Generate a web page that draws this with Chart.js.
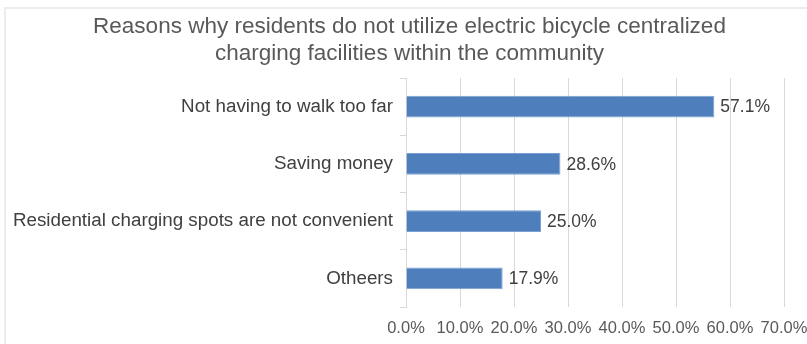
<!DOCTYPE html>
<html>
<head>
<meta charset="utf-8">
<script src="https://cdn.jsdelivr.net/npm/chart.js@4/dist/chart.umd.min.js"></script>
<style>
  html, body { margin: 0; padding: 0; background: #ffffff; }
  #wrap { width: 807px; height: 344px; position: relative; }
</style>
</head>
<body>
<div id="wrap"><canvas id="c" width="807" height="344"></canvas></div>
<script>
const categories = [
  "Not having to walk too far",
  "Saving money",
  "Residential charging spots are not convenient",
  "Otheers"
];
const values = [57.1, 28.6, 25.0, 17.9];
const xTicks = [0, 10, 20, 30, 40, 50, 60, 70];
const titleLines = [
  "Reasons why residents do not utilize electric bicycle centralized",
  "charging facilities within the community"
];

const FONT = "'Liberation Sans', Arial, Helvetica, sans-serif";

const framePlugin = {
  id: 'frame',
  beforeDraw(chart) {
    const ctx = chart.ctx;
    ctx.save();
    ctx.fillStyle = '#ffffff';
    ctx.fillRect(0, 0, chart.width, chart.height);
    ctx.strokeStyle = '#ececec';
    ctx.lineWidth = 2;
    ctx.beginPath();
    ctx.moveTo(5, chart.height + 2);
    ctx.lineTo(5, 8);
    ctx.lineTo(chart.width + 2, 8);
    ctx.stroke();
    ctx.restore();
  }
};

const labelPlugin = {
  id: 'barLabels',
  afterDatasetsDraw(chart) {
    const ctx = chart.ctx;
    const meta = chart.getDatasetMeta(0);
    ctx.save();
    ctx.font = "17.5px " + FONT;
    ctx.fillStyle = '#404040';
    ctx.textAlign = 'left';
    ctx.textBaseline = 'middle';
    meta.data.forEach((bar, i) => {
      ctx.fillText(values[i].toFixed(1) + '%', bar.x + 6, bar.y + 1);
    });
    ctx.restore();
  }
};

new Chart(document.getElementById('c'), {
  type: 'bar',
  data: {
    labels: categories,
    datasets: [{
      data: values,
      backgroundColor: '#4e7fbc',
      borderColor: '#79a0d3',
      borderWidth: 1,
      categoryPercentage: 1.0,
      barPercentage: 0.38
    }]
  },
  options: {
    indexAxis: 'y',
    responsive: false,
    animation: false,
    events: [],
    layout: { padding: { left: 12, right: 0, top: 0, bottom: 0 } },
    plugins: {
      legend: { display: false },
      tooltip: { enabled: false },
      title: {
        display: true,
        text: titleLines,
        color: '#595959',
        font: { family: FONT, size: 22.5, weight: 'normal', lineHeight: 1.2 },
        padding: { top: 13, bottom: 11 }
      }
    },
    scales: {
      x: {
        type: 'linear',
        min: 0,
        max: 70,
        afterBuildTicks(scale) {
          scale.ticks = xTicks.map(v => ({ value: v }));
        },
        afterFit(scale) {
          scale.height = 37;
          scale.paddingLeft = 0;
          scale.paddingRight = 23;
        },
        ticks: {
          color: '#595959',
          font: { family: FONT, size: 16.5 },
          padding: 12,
          maxRotation: 0,
          autoSkip: false,
          callback: v => v.toFixed(1) + '%'
        },
        grid: {
          color: '#d9d9d9',
          lineWidth: 1,
          drawTicks: false
        },
        border: { display: false }
      },
      y: {
        afterFit(scale) {
          scale.width = 394;
        },
        ticks: {
          color: '#404040',
          font: { family: FONT, size: 18.8 },
          padding: 7
        },
        grid: {
          color: '#d9d9d9',
          drawOnChartArea: false,
          drawTicks: true,
          tickLength: 6,
          offset: true
        },
        border: { display: true, color: '#d9d9d9', width: 1 }
      }
    }
  },
  plugins: [framePlugin, labelPlugin]
});
</script>
</body>
</html>
